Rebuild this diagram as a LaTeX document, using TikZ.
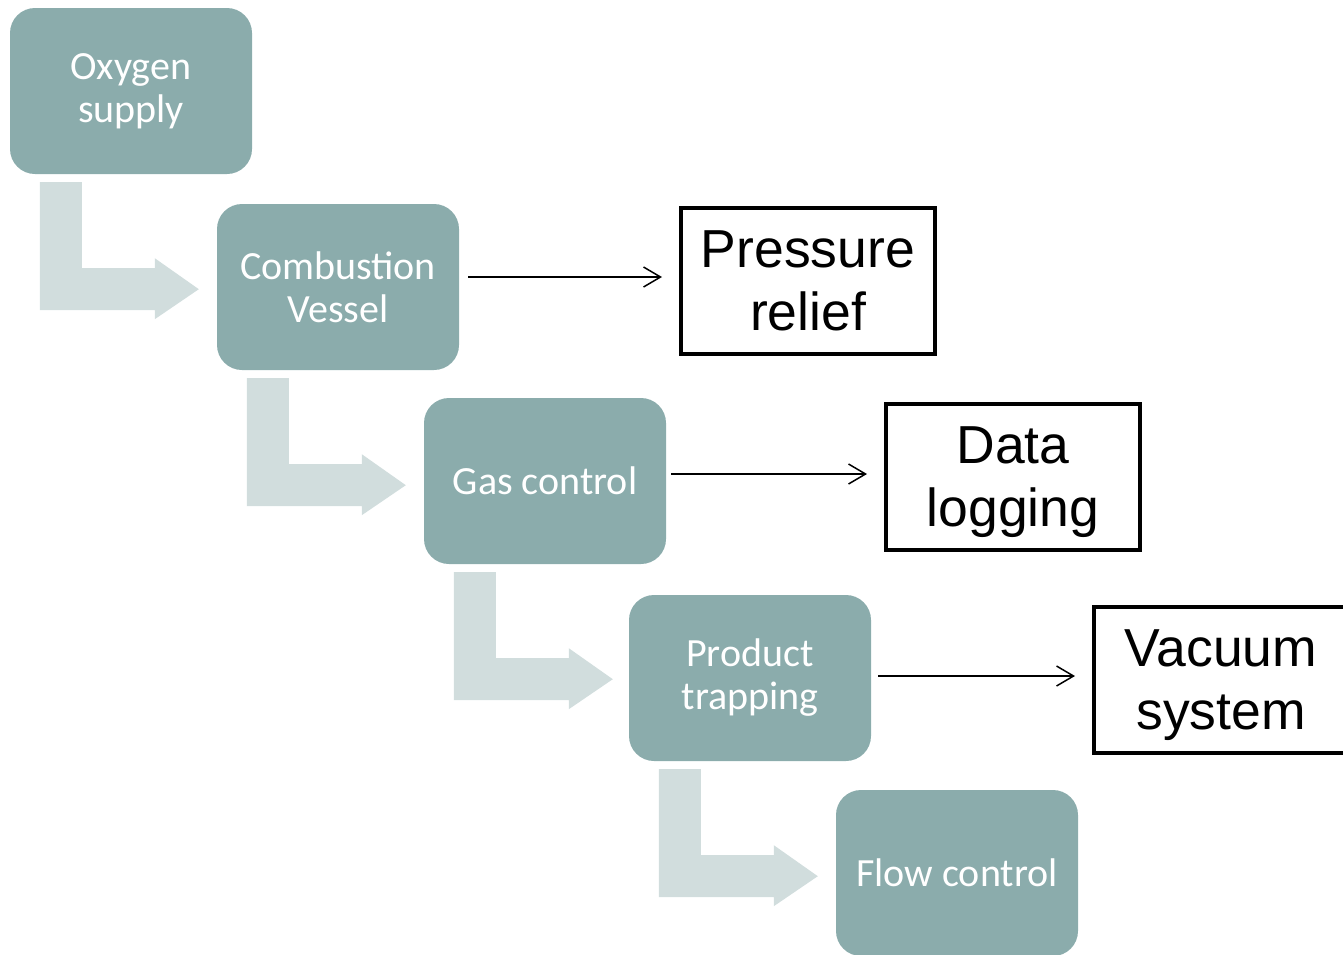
\documentclass[tikz,border=0pt]{standalone}
\usepackage{fontspec}
\setmainfont{Carlito}
\newfontfamily\arialfont{Liberation Sans}
\usetikzlibrary{arrows.meta}
\definecolor{stepfill}{RGB}{139,172,172}
\definecolor{bentfill}{RGB}{209,221,221}
\newcommand{\bentarrow}[1]{\fill[bentfill] (#1) ++(30,8)--++(42,0)--++(0,86)--++(73,0)--++(0,-10)--++(44,31)--++(-44,30)--++(0,-9)--++(-115,0)--cycle;}
\tikzset{
  stage/.style={fill=stepfill, rounded corners=25pt, minimum width=242pt, minimum height=166pt,
    text=white, align=center, font=\fontsize{40}{43}\selectfont},
  unit/.style={draw, line width=4pt, minimum width=254pt, minimum height=146pt, text depth=0pt,
    align=center, font=\arialfont\fontsize{53.5}{63}\selectfont},
  feed/.style={-{Straight Barb[length=17pt,width=20pt]}, line width=1.5pt}
}
\begin{document}
\begin{tikzpicture}[x=1pt,y=-1pt]
\useasboundingbox (0,0) rectangle (1343,954);
% main chain
\node[stage] (oxy) at (131,91) {Oxygen\\supply};
\node[stage] (vessel) at (338,287) {Combustion\\Vessel};
\node[stage] (gas) at (545,481) {Gas control};
\node[stage] (trap) at (750,678) {Product\\trapping};
\node[stage] (flow) at (957,873) {Flow control};
\bentarrow{oxy.south west}
\bentarrow{vessel.south west}
\bentarrow{gas.south west}
\bentarrow{trap.south west}
% side units
\node[unit] (relief) at (808,281) {Pressure\\relief};
\node[unit] (logging) at (1013,477) {Data\\logging};
\node[unit] (vacuum) at (1221,680) {Vacuum\\system};
\draw[feed] ([xshift=9pt,yshift=10pt]vessel.east) -- ([xshift=-17pt,yshift=4pt]relief.west);
\draw[feed] ([xshift=5pt,yshift=7pt]gas.east) -- ([xshift=-17pt,yshift=3pt]logging.west);
\draw[feed] ([xshift=7pt,yshift=2pt]trap.east) -- ([xshift=-17pt,yshift=4pt]vacuum.west);
\end{tikzpicture}
\end{document}
